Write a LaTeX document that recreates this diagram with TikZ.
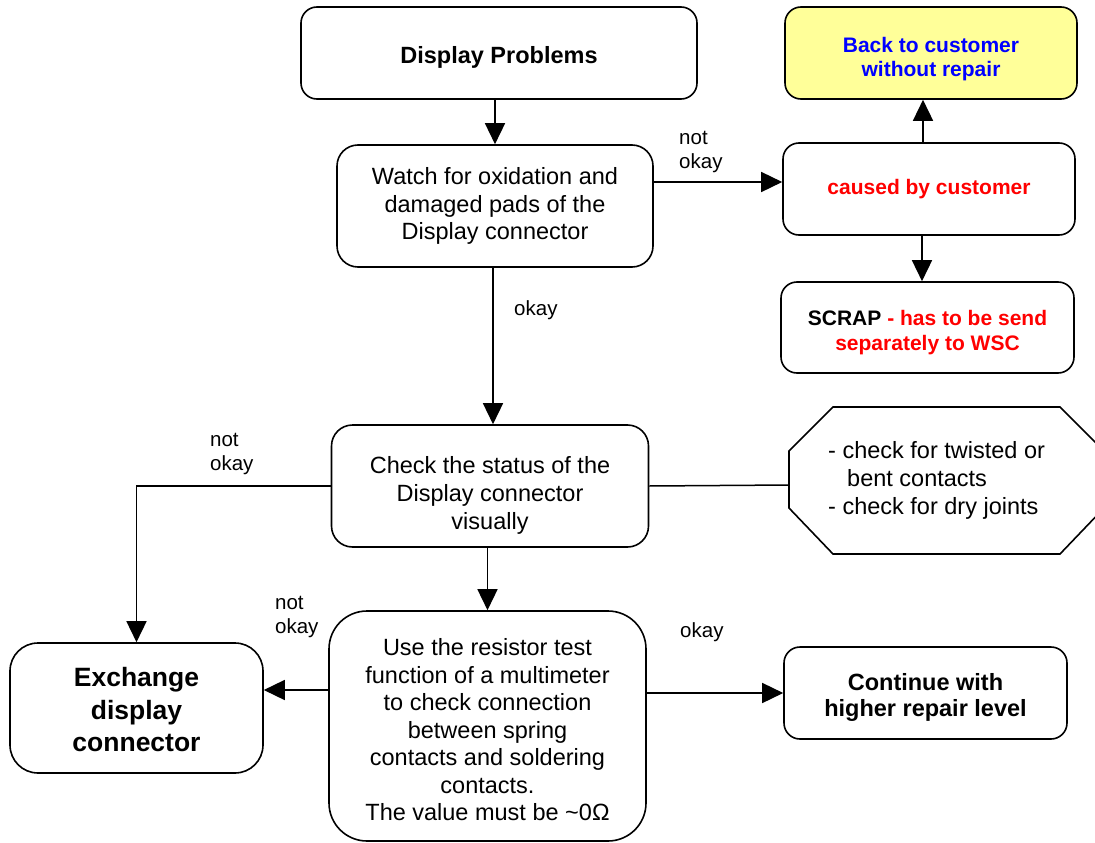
\documentclass[tikz,border=0pt]{standalone}
\usepackage{fontspec}
\setmainfont{Liberation Sans}
\usetikzlibrary{arrows.meta}
\definecolor{myred}{RGB}{255,0,0}
\definecolor{myblue}{RGB}{0,0,255}
\definecolor{myyellow}{RGB}{255,255,153}
\begin{document}
\begin{tikzpicture}[x=1pt,y=-1pt,
  box/.style={draw, line width=1.6pt, rounded corners=16pt, inner sep=0pt, fill=white},
  txt/.style={align=center, inner sep=0pt},
  reg/.style={font=\fontsize{23.5}{27.5}\selectfont},
  bld/.style={font=\fontsize{21}{24.5}\selectfont\bfseries},
  lbl/.style={font=\fontsize{20.5}{24}\selectfont, align=left, anchor=west, inner sep=0pt},
  arr/.style={line width=1.5pt, -{Triangle[length=21pt,width=20pt]}},
  con/.style={line width=1.5pt}]
\useasboundingbox (0,0) rectangle (1095,843);
\fill[white] (0,0) rectangle (1095,843);

% boxes
\node[box, minimum width=396pt, minimum height=92pt] (dp) at (499,53) {};
\node[box, rounded corners=21pt, minimum width=316pt, minimum height=122pt] (watch) at (495,206) {};
\node[box, minimum width=292pt, minimum height=92pt] (cause) at (929,189) {};
\node[box, fill=myyellow, minimum width=292pt, minimum height=92pt] (back) at (931,53) {};
\node[box, minimum width=293pt, minimum height=91pt] (scrap) at (927.5,327.5) {};
\node[box, rounded corners=21pt, minimum width=317pt, minimum height=122pt] (check) at (490,486) {};
\node[box, rounded corners=28pt, minimum width=253pt, minimum height=130pt] (exch) at (136.5,708) {};
\node[box, rounded corners=38pt, minimum width=317pt, minimum height=230pt] (use) at (487.5,726) {};
\node[box, minimum width=283pt, minimum height=92pt] (cont) at (925.5,693) {};

% box texts
\node[txt, font=\fontsize{23.5}{27.5}\selectfont\bfseries] (dpT) at ([yshift=-4pt]dp.center) {Display Problems};
\node[txt, reg] (watchT) at (watch.center)
  {Watch for oxidation and\\damaged pads of the\\Display connector};
\node[txt, bld, text=myred] (causeT) at (cause.center) {caused by customer};
\node[txt, bld, text=myblue] (backT) at ([yshift=-6pt]back.center) {Back to customer\\without repair};
\node[txt, font=\fontsize{21}{25}\selectfont\bfseries, text=myred] (scrapT) at ([yshift=-5pt]scrap.center)
  {\textcolor{black}{SCRAP} - has to be send\\separately to WSC};
\node[txt, font=\fontsize{23.5}{28}\selectfont] (checkT) at ([yshift=-9pt]check.center)
  {Check the status of the\\Display connector\\visually};
\node[txt, font=\fontsize{26.5}{32.5}\selectfont\bfseries] (exchT) at ([yshift=-2pt]exch.center)
  {Exchange\\display\\connector};
\node[txt, reg] (useT) at ([yshift=-4pt]use.center)
  {Use the resistor test\\function of a multimeter\\to check connection\\between spring\\contacts and soldering\\contacts.\\The value must be \textasciitilde0Ω};
\node[txt, font=\fontsize{23.5}{26}\selectfont\bfseries] (contT) at ([yshift=-4pt]cont.center)
  {Continue with\\higher repair level};

% octagon
\draw[line width=1.6pt] (789,451) -- (833,407) -- (1060,407) -- (1104,451) -- (1104,508) -- (1060,554) -- (833,554) -- (789,508) -- cycle;
\coordinate (octL) at (789,485);
\node[font=\fontsize{23.5}{28}\selectfont, align=left, anchor=west, inner sep=0pt] (oct) at (828,480)
  {- check for twisted or\\\hspace*{19pt}bent contacts\\- check for dry joints};

% labels
\node[lbl] (l1) at (679,152) {not\\okay};
\node[lbl] (l2) at (514,310) {okay};
\node[lbl] (l3) at (210,454) {not\\okay};
\node[lbl] (l4) at (275,617) {not\\okay};
\node[lbl] (l5) at (680,632) {okay};

% helper coordinates
\coordinate (xA) at (923,0);
\coordinate (xB) at (922,0);
\coordinate (xC) at (493,0);
\coordinate (yA) at (0,182);
\coordinate (yB) at (0,690);

% connectors
\draw[arr] (dp.south -| watch.north) -- (watch.north);
\draw[arr] (watch.east |- yA) -- (cause.west |- yA);
\draw[arr] (cause.north -| xA) -- (back.south -| xA);
\draw[arr] (cause.south -| xB) -- (scrap.north -| xB);
\draw[arr] (watch.south -| xC) -- (check.north -| xC);
\draw[arr] (check.west) -| (exch.north);
\draw[con] (check.east) -- (octL);
\draw[arr] (check.south -| use.north) -- (use.north);
\draw[arr] (use.west |- yB) -- (exch.east |- yB);
\draw[arr] (use.east |- cont.west) -- (cont.west);
\end{tikzpicture}
\end{document}
